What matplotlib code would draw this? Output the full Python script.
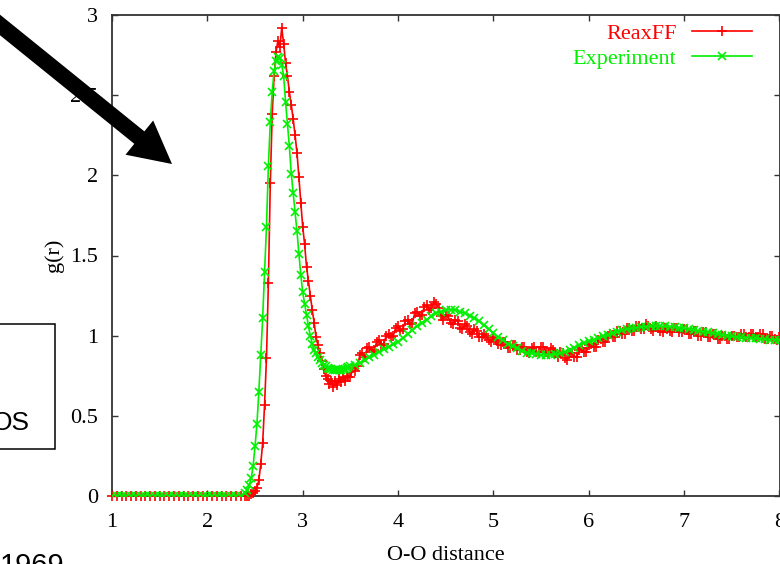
import numpy as np
import matplotlib
matplotlib.use("Agg")
import matplotlib.pyplot as plt
from matplotlib import patches, transforms

# ---------------- data ----------------
series_names = ["ReaxFF", "Experiment"]
x_label = "O-O distance"
y_label = "g(r)"
x_ticks = [1, 2, 3, 4, 5, 6, 7, 8]
x_tick_labels = ["1", "2", "3", "4", "5", "6", "7", "8"]
y_ticks = [0, 0.5, 1, 1.5, 2, 2.5, 3]
y_tick_labels = ["0", "0.5", "1", "1.5", "2", "2.5", "3"]

# sampling grids (r values)
zero_x = np.round(np.arange(1.00, 2.351, 0.05), 2)     # 28 points
peak_x = np.round(np.arange(2.40, 3.481, 0.02), 2)     # 55 points
tail_x = np.round(np.arange(3.50, 8.001, 0.05), 2)     # 91 points
tail_mid_x = np.round(np.arange(3.525, 7.976, 0.05), 3)  # 90 points

reax_zero = [0.0, 0.0, 0.0, 0.0, 0.0, 0.0, 0.0, 0.0, 0.0, 0.0,
             0.0, 0.0, 0.0, 0.0, 0.0, 0.0, 0.0, 0.0, 0.0, 0.0,
             0.0, 0.0, 0.0, 0.0, 0.0, 0.0, 0.0, 0.0]
reax_peak = [0.00, 0.00, 0.00, 0.01, 0.02, 0.03, 0.05, 0.10, 0.20, 0.33,
             0.57, 0.86, 1.33, 1.95, 2.38, 2.62, 2.77, 2.84, 2.80, 2.92,
             2.82, 2.70, 2.62, 2.52, 2.44, 2.35, 2.25, 2.14, 1.99, 1.83,
             1.68, 1.57, 1.43, 1.34, 1.25, 1.16, 1.08, 0.99, 0.94, 0.89,
             0.84, 0.79, 0.75, 0.73, 0.70, 0.72, 0.68, 0.72, 0.69, 0.73,
             0.71, 0.74, 0.72, 0.75, 0.74]
reax_tail = [0.74, 0.78, 0.88, 0.87, 0.93, 0.91, 0.97, 0.95, 1.01, 1.00,
             1.06, 1.04, 1.10, 1.08, 1.15, 1.13, 1.19, 1.17, 1.20, 1.12,
             1.13, 1.08, 1.10, 1.05, 1.07, 1.02, 1.04, 0.99, 1.01, 0.97,
             0.99, 0.95, 0.96, 0.92, 0.94, 0.91, 0.93, 0.90, 0.92, 0.90,
             0.93, 0.90, 0.92, 0.89, 0.90, 0.86, 0.89, 0.87, 0.91, 0.90,
             0.94, 0.93, 0.97, 0.96, 1.00, 0.99, 1.03, 1.01, 1.05, 1.03,
             1.06, 1.04, 1.07, 1.04, 1.06, 1.03, 1.05, 1.03, 1.05, 1.02,
             1.04, 1.01, 1.03, 1.00, 1.02, 0.99, 1.01, 0.98, 1.00, 0.98,
             1.00, 0.99, 1.01, 0.99, 1.01, 0.99, 1.01, 0.98, 1.00, 0.98,
             0.99]
reax_tail_mid = [0.80, 0.81, 0.89, 0.92, 0.90, 0.96, 0.94, 1.00, 0.99, 1.05,
                 1.03, 1.09, 1.07, 1.14, 1.12, 1.18, 1.16, 1.21, 1.17, 1.10,
                 1.12, 1.07, 1.09, 1.04, 1.06, 1.01, 1.03, 0.99, 1.00, 0.96,
                 0.97, 0.94, 0.96, 0.92, 0.94, 0.91, 0.93, 0.89, 0.93, 0.90,
                 0.93, 0.89, 0.91, 0.87, 0.89, 0.85, 0.89, 0.87, 0.92, 0.90,
                 0.95, 0.93, 0.98, 0.96, 1.01, 0.99, 1.03, 1.01, 1.05, 1.03,
                 1.06, 1.04, 1.06, 1.03, 1.05, 1.02, 1.04, 1.02, 1.05, 1.02,
                 1.04, 1.01, 1.03, 1.00, 1.02, 0.99, 1.01, 0.98, 1.00, 0.98,
                 1.00, 0.99, 1.01, 0.99, 1.01, 0.99, 1.01, 0.98, 1.00, 0.97]

exp_zero = [0.0, 0.0, 0.0, 0.0, 0.0, 0.0, 0.0, 0.0, 0.0, 0.0,
            0.0, 0.0, 0.0, 0.0, 0.0, 0.0, 0.0, 0.0, 0.0, 0.0,
            0.0, 0.0, 0.0, 0.0, 0.0, 0.0, 0.0, 0.0]
exp_peak = [0.02, 0.04, 0.07, 0.11, 0.19, 0.31, 0.45, 0.65, 0.88, 1.11,
            1.40, 1.68, 2.06, 2.33, 2.52, 2.65, 2.71, 2.74, 2.73, 2.69,
            2.62, 2.46, 2.32, 2.18, 2.01, 1.89, 1.77, 1.65, 1.51, 1.38,
            1.27, 1.20, 1.13, 1.06, 1.00, 0.95, 0.91, 0.89, 0.87, 0.85,
            0.83, 0.82, 0.81, 0.80, 0.795, 0.79, 0.787, 0.785, 0.785, 0.786,
            0.788, 0.79, 0.795, 0.80, 0.805]
exp_tail = [0.81, 0.82, 0.83, 0.85, 0.865, 0.88, 0.90, 0.915, 0.93, 0.945,
            0.96, 0.985, 1.01, 1.035, 1.06, 1.08, 1.10, 1.12, 1.14, 1.15,
            1.16, 1.162, 1.16, 1.15, 1.14, 1.125, 1.11, 1.09, 1.065, 1.04,
            1.015, 0.99, 0.97, 0.95, 0.935, 0.92, 0.905, 0.895, 0.89, 0.885,
            0.88, 0.88, 0.882, 0.885, 0.89, 0.90, 0.91, 0.925, 0.94, 0.955,
            0.965, 0.975, 0.985, 0.995, 1.005, 1.015, 1.025, 1.035, 1.04, 1.045,
            1.05, 1.055, 1.057, 1.06, 1.06, 1.06, 1.058, 1.056, 1.054, 1.05,
            1.045, 1.04, 1.035, 1.03, 1.025, 1.02, 1.015, 1.01, 1.005, 1.0,
            0.995, 0.992, 0.99, 0.988, 0.985, 0.983, 0.98, 0.978, 0.976, 0.975,
            0.975]

reax_x = np.concatenate([zero_x, peak_x, tail_x, tail_mid_x])
reax_y = np.concatenate([reax_zero, reax_peak, reax_tail, reax_tail_mid])
order = np.argsort(reax_x, kind="stable")
reax_x, reax_y = reax_x[order], reax_y[order]
exp_x = np.concatenate([zero_x, peak_x, tail_x])
exp_y = np.concatenate([exp_zero, exp_peak, exp_tail])

# ---------------- figure ----------------
W, H = 780, 564
fig = plt.figure(figsize=(W / 100, H / 100), dpi=100)
serif = ["Liberation Serif", "DejaVu Serif"]
sans = ["Liberation Sans", "DejaVu Sans"]

ax_left, ax_right, ax_top, ax_bottom = 112, 779.5, 15, 496
ax = fig.add_axes([ax_left / W, (H - ax_bottom) / H,
                   (ax_right - ax_left) / W, (ax_bottom - ax_top) / H])

red = "#ff0000"
green = "#00f000"

ax.plot(reax_x, reax_y, color=red, lw=1.2, marker="+", ms=7.5, mew=1.2,
        label=series_names[0], clip_on=False, zorder=3)
ax.plot(exp_x, exp_y, color=green, lw=1.2, marker="x", ms=5.5, mew=1.2,
        label=series_names[1], zorder=4)

ax.set_xlim(1, 8)
ax.set_ylim(0, 3)
ax.set_xticks(x_ticks)
ax.set_xticklabels(x_tick_labels, fontfamily=serif, fontsize=16)
ax.set_yticks(y_ticks)
ax.set_yticklabels(y_tick_labels, fontfamily=serif, fontsize=16)
ax.tick_params(direction="in", length=4.5, width=1.0, color="#333333",
               top=True, right=True)
ax.tick_params(axis="x", pad=12)
ax.tick_params(axis="y", pad=10)
for s in ax.spines.values():
    s.set_color("#333333")
    s.set_linewidth(1.3)

ax.set_xlabel(x_label, fontfamily=serif, fontsize=16, labelpad=10)
ax.set_ylabel(y_label, fontfamily=serif, fontsize=16)
ax.yaxis.set_label_coords((64 - ax_left) / (ax_right - ax_left), 0.5)

leg = ax.legend(loc="upper right", bbox_to_anchor=(752 / W, (H - 23) / H),
                bbox_transform=fig.transFigure, frameon=False, markerfirst=False,
                handlelength=2.7, handletextpad=0.7, labelspacing=0.23,
                borderpad=0, borderaxespad=0, numpoints=1,
                prop={"family": serif, "size": 16}, labelcolor="linecolor")

# ---------------- slide decorations ----------------
ident = transforms.IdentityTransform()
arrow = patches.FancyArrow(-20, H - 8.8, 192, -155.2, width=16, head_width=44,
                           head_length=42, length_includes_head=True,
                           fc="black", ec="none", transform=ident)
fig.add_artist(arrow)
box = patches.Rectangle((-5, H - 449), 60, 125, fill=False, ec="black",
                        lw=1.1, transform=ident)
fig.add_artist(box)
fig.text(30, H - 430, "OS", ha="right", va="baseline", fontsize=19,
         fontfamily=sans, transform=ident)
fig.text(0, H - 574, "1969", ha="left", va="baseline", fontsize=21,
         fontfamily=sans, transform=ident)

fig.savefig("out.png", dpi=100)
